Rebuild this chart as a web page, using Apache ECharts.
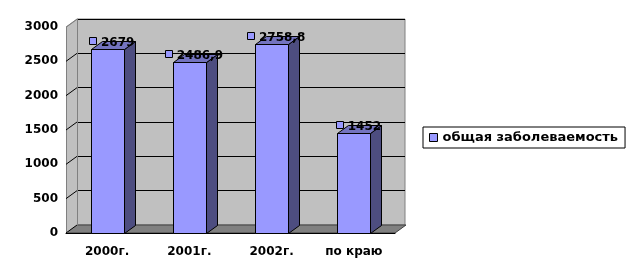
<!DOCTYPE html>
<html><head><meta charset="utf-8">
<script src="https://cdn.jsdelivr.net/npm/echarts@6/dist/echarts.min.js"></script>
<style>html,body{margin:0;padding:0;background:#fff}#c{width:634px;height:276px}</style>
</head><body><div id="c"></div>
<script>
const categories = ['2000г.', '2001г.', '2002г.', 'по краю'];
const values = [2679, 2486.9, 2758.8, 1452];
const seriesName = 'общая заболеваемость';
const yTicks = [0, 500, 1000, 1500, 2000, 2500, 3000];

const FAM = '"DejaVu Sans", sans-serif';
const FONT = 'bold 12px "DejaVu Sans"';
const L = 66, T = 27, W = 329, H = 206, DX = 11, DY = 8;
const chart = echarts.init(document.getElementById('c'), null, {renderer: 'canvas'});
const mctx = document.createElement('canvas').getContext('2d');
mctx.font = FONT;
function fmt(v) { return String(v).replace('.', ','); }
const r = v => Math.round(v) + 0.5;

function renderItem(params, api) {
  const i = api.value(0), v = api.value(1);
  const p0 = api.coord([i, 0]), p1 = api.coord([i, v]);
  const bw = api.size([1, 0])[0] * 0.4;
  const xl = r(p0[0] - bw / 2), xr = r(p0[0] + bw / 2), yb = r(p0[1]), yt = r(p1[1]);
  const front = {type: 'rect', shape: {x: xl, y: yt, width: xr - xl, height: yb - yt},
    style: {fill: '#9999ff', stroke: '#000', lineWidth: 1}};
  const side = {type: 'polygon', shape: {points: [[xr, yb], [xr, yt], [xr + DX, yt - DY], [xr + DX, yb - DY]]},
    style: {fill: '#4d4d80', stroke: '#000', lineWidth: 1}};
  const top = {type: 'polygon', shape: {points: [[xl, yt], [xr, yt], [xr + DX, yt - DY], [xl + DX, yt - DY]]},
    style: {fill: '#7373bf', stroke: '#000', lineWidth: 1}};
  const txt = fmt(v);
  const tw = mctx.measureText(txt).width;
  const total = 8 + 4 + tw;
  const cx = p0[0] + 4.5, cy = p1[1] - 6;
  const lx = cx - total / 2;
  const sq = {type: 'rect', shape: {x: r(lx), y: r(cy - 6), width: 7, height: 7},
    style: {fill: '#9999ff', stroke: '#000', lineWidth: 1}};
  const tx = {type: 'text', style: {text: txt, x: lx + 12, y: cy, font: FONT, fill: '#000',
    align: 'left', verticalAlign: 'middle'}};
  return {type: 'group', children: [front, side, top, sq, tx]};
}

const option = {
  animation: false,
  backgroundColor: '#fff',
  grid: [
    {left: L, top: T, width: W, height: H},
    {left: L + DX, top: T - DY, width: W - 1, height: H, show: true, backgroundColor: '#c0c0c0',
     borderColor: '#808080', borderWidth: 1, z: 0}
  ],
  xAxis: [
    {type: 'category', data: categories, gridIndex: 0, axisLine: {lineStyle: {color: '#000', width: 1}},
     axisTick: {show: false}, z: 3,
     axisLabel: {fontFamily: FAM, fontWeight: 'bold', fontSize: 12, color: '#000', margin: 13}},
    {type: 'category', data: categories, gridIndex: 1, show: false}
  ],
  yAxis: [
    {type: 'value', gridIndex: 0, min: 0, max: 3000, interval: 500, axisLine: {show: false},
     axisTick: {show: false}, splitLine: {show: false},
     axisLabel: {fontFamily: FAM, fontWeight: 'bold', fontSize: 12, color: '#000', margin: 8,
       formatter: v => String(v)}},
    {type: 'value', gridIndex: 1, min: 0, max: 3000, interval: 500, axisLine: {show: false},
     axisTick: {show: false}, axisLabel: {show: false},
     splitLine: {lineStyle: {color: '#000', width: 1}}}
  ],
  legend: {
    left: 423, top: 127, orient: 'horizontal', data: [seriesName],
    borderColor: '#000', borderWidth: 1, padding: [4, 7, 4, 6],
    itemWidth: 8, itemHeight: 8, icon: 'rect',
    itemStyle: {borderColor: '#000', borderWidth: 1},
    textStyle: {fontFamily: FAM, fontWeight: 'bold', fontSize: 13, color: '#000'}
  },
  series: [{
    type: 'custom', name: seriesName, xAxisIndex: 0, yAxisIndex: 0,
    data: values.map((v, i) => [i, v]), renderItem: renderItem,
    itemStyle: {color: '#9999ff'}, z: 5
  }]
};
chart.setOption(option);

// 3D walls from axis scale
const yBot = chart.convertToPixel({yAxisIndex: 0}, 0);
const yTop = chart.convertToPixel({yAxisIndex: 0}, 3000);
const xLeft = L, xRight = L + W;
const els = [];
els.push({type: 'polygon', z: 1, shape: {points: [[xLeft, yBot], [xRight, yBot], [xRight + DX, yBot - DY], [xLeft + DX, yBot - DY]]},
  style: {fill: '#808080', stroke: '#404040', lineWidth: 1}});
els.push({type: 'polygon', z: 1, shape: {points: [[r(xLeft), yBot], [r(xLeft), yTop], [r(xLeft + DX), yTop - DY], [r(xLeft + DX), yBot - DY]]},
  style: {fill: '#c0c0c0', stroke: '#808080', lineWidth: 1}});
yTicks.forEach(t => {
  const y = chart.convertToPixel({yAxisIndex: 0}, t);
  els.push({type: 'line', z: 2, shape: {x1: xLeft, y1: y, x2: xLeft + DX, y2: y - DY},
    style: {stroke: t === 3000 ? '#808080' : '#000', lineWidth: 1}});
});
chart.setOption({graphic: {elements: els}});
</script></body></html>
